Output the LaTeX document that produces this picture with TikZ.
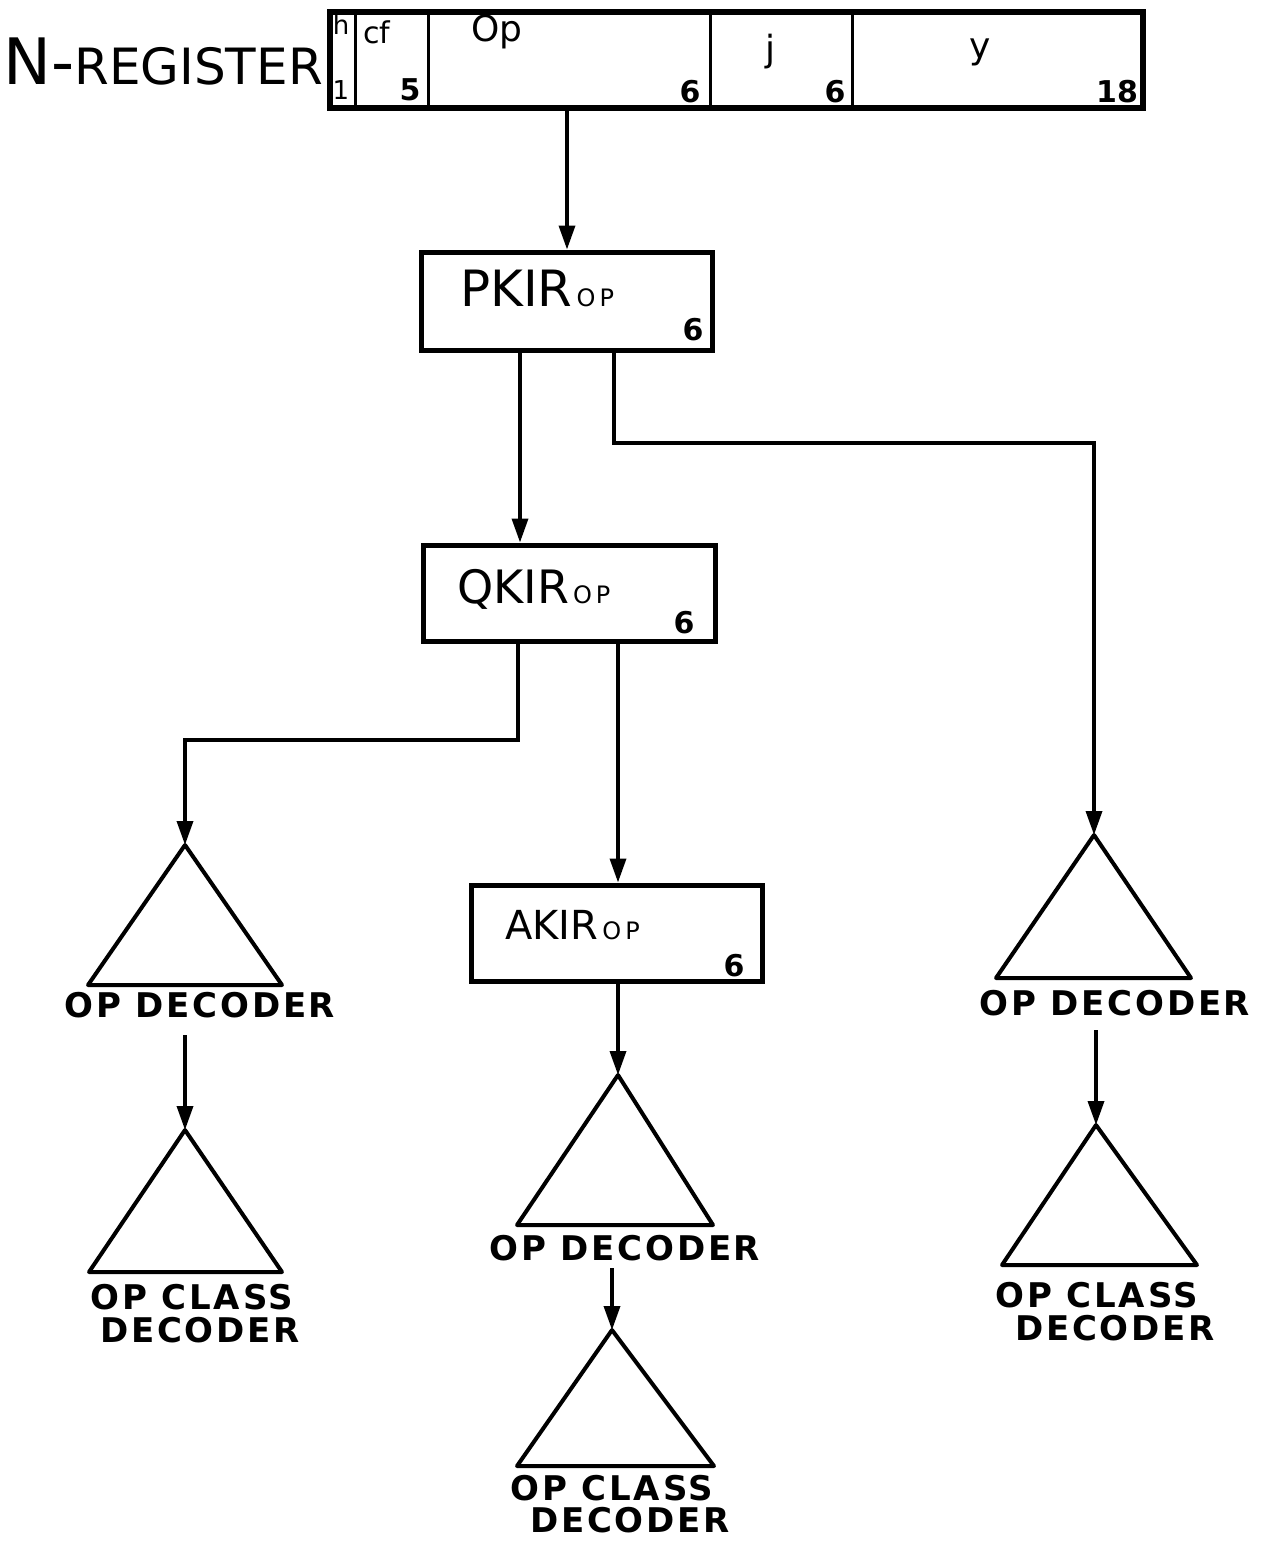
\documentclass[tikz,border=0pt]{standalone}
\usepackage{fontspec}
\setmainfont{DejaVu Sans}
\usetikzlibrary{arrows.meta}
\begin{document}
\begin{tikzpicture}[x=1pt,y=-1pt,
  regbox/.style={draw, line width=5.5pt, inner sep=0pt, minimum width=813pt, minimum height=96pt},
  kbox/.style={draw, line width=5pt, inner sep=0pt},
  divider/.style={line width=3pt},
  conn/.style={line width=3.5pt, -{Triangle[length=24pt,width=16pt]}},
  tri/.style={line width=4pt, line join=round, line cap=round},
  txt/.style={inner sep=0pt, text=black},
  declbl/.style={txt, font=\fontsize{34}{38}\selectfont\bfseries\addfontfeature{LetterSpace=8}},
  reglbl/.style={txt, font=\fontsize{30}{34}\selectfont},
  numlbl/.style={txt, font=\fontsize{30}{34}\selectfont\bfseries},
  klbl/.style={txt, anchor=base west, font=\fontsize{50}{56}\selectfont},
]
\useasboundingbox (0,0) rectangle (1266,1542);
\fill[white] (0,0) rectangle (1266,1542);

% N-register
\node[regbox] (reg) at (736.5,60) {};
\draw[divider] (355,12) -- (355,108);
\draw[divider] (428,12) -- (428,108);
\draw[divider] (710,12) -- (710,108);
\draw[divider] (852,12) -- (852,108);
\node[txt, anchor=base east, font=\fontsize{64}{68}\selectfont] (regname) at (323,84) {N-{\fontsize{50}{54}\selectfont REGISTER}};
\node[reglbl, font=\fontsize{26}{30}\selectfont] (h) at (341,25) {h};
\node[reglbl, font=\fontsize{26}{30}\selectfont] (one) at (341,90) {1};
\node[reglbl] (cf) at (377,32) {cf};
\node[numlbl] (five) at (410,90) {5};
\node[reglbl, font=\fontsize{36}{40}\selectfont] (op) at (497,32) {Op};
\node[numlbl] (sixa) at (690,92) {6};
\node[reglbl, font=\fontsize{36}{40}\selectfont] (j) at (770,52) {j};
\node[numlbl] (sixb) at (835,92) {6};
\node[reglbl, font=\fontsize{36}{40}\selectfont] (y) at (980,52) {y};
\node[numlbl] (eighteen) at (1117,92) {18};

% KIR boxes
\node[kbox, minimum width=291pt, minimum height=98pt] (pkir) at (567,301) {};
\node[klbl] (pkirt) at (460,306) {PKIR\hspace{4pt}{\fontsize{24}{26}\selectfont O\,P}};
\node[numlbl] (pkir6) at (693,330) {6};

\node[kbox, minimum width=292pt, minimum height=96pt] (qkir) at (569,593) {};
\node[klbl, font=\fontsize{46}{50}\selectfont] (qkirt) at (457,603) {QKIR\hspace{4pt}{\fontsize{24}{26}\selectfont O\,P}};
\node[numlbl] (qkir6) at (684,623) {6};

\node[kbox, minimum width=291pt, minimum height=96pt] (akir) at (617,933) {};
\node[klbl, font=\fontsize{40}{44}\selectfont] (akirt) at (505,939) {AKIR\hspace{4pt}{\fontsize{24}{26}\selectfont O\,P}};
\node[numlbl] (akir6) at (734,966) {6};

% triangles (apex coordinates)
\coordinate (lt1) at (185,845);
\coordinate (lt2) at (185,1130);
\coordinate (mt1) at (618,1075);
\coordinate (mt2) at (612,1330);
\coordinate (rt1) at (1094,835);
\coordinate (rt2) at (1096,1125);
\draw[tri] (lt1) -- ++(-97,140) -- ++(194,0) -- cycle;
\draw[tri] (lt2) -- ++(-96,142) -- ++(193,0) -- cycle;
\draw[tri] (mt1) -- ++(-101,150) -- ++(196,0) -- cycle;
\draw[tri] (mt2) -- ++(-95,136) -- ++(197,0) -- cycle;
\draw[tri] (rt1) -- ++(-98,143) -- ++(195,0) -- cycle;
\draw[tri] (rt2) -- ++(-94,140) -- ++(195,0) -- cycle;

% labels
\node[declbl] (lt1l) at (200,1005) {OP DECODER};
\node[declbl] (lt2a) at (192,1297) {OP CLASS};
\node[declbl] (lt2b) at (200,1330) {DECODER};
\node[declbl] (mt1l) at (625,1248) {OP DECODER};
\node[declbl] (mt2a) at (612,1488) {OP CLASS};
\node[declbl] (mt2b) at (630,1520) {DECODER};
\node[declbl] (rt1l) at (1115,1003) {OP DECODER};
\node[declbl] (rt2a) at (1097,1295) {OP CLASS};
\node[declbl] (rt2b) at (1115,1328) {DECODER};

% free-end starts
\coordinate (s1) at (185,1035);
\coordinate (s2) at (612,1268);
\coordinate (s3) at (1096,1030);

% connectors
\draw[conn] (reg.south -| pkir) -- (pkir.north);
\draw[conn] (pkir.south -| 520,0) -- (qkir.north -| 520,0);
\draw[conn] (pkir.south -| 614,0) -- (614,443) -| (rt1);
\draw[conn] (qkir.south -| 518,0) -- (518,740) -| (lt1);
\draw[conn] (qkir.south -| 618,0) -- (akir.north -| 618,0);
\draw[conn] (akir.south -| mt1) -- (mt1);
\draw[conn] (s1) -- (lt2);
\draw[conn] (s2) -- (mt2);
\draw[conn] (s3) -- (rt2);
\end{tikzpicture}
\end{document}
